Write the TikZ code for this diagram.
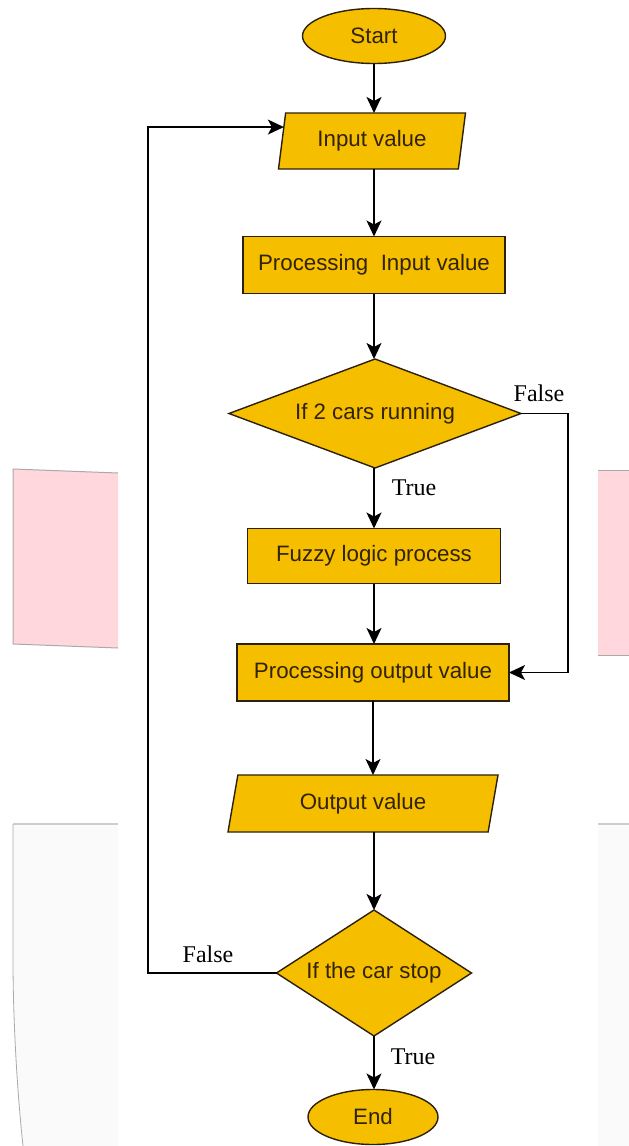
\documentclass[tikz,border=0pt]{standalone}
\usepackage{fontspec}
\setmainfont{Liberation Sans}
\newfontfamily\tnr{Liberation Serif}
\usetikzlibrary{shapes.geometric,arrows.meta}
\definecolor{gold}{RGB}{245,191,0}
\definecolor{txt}{RGB}{50,34,6}
\definecolor{edge}{RGB}{45,32,10}
\definecolor{pinkbg}{RGB}{255,215,220}
\definecolor{graybg}{RGB}{250,250,250}
\definecolor{rimgray}{RGB}{170,170,170}
\definecolor{rimlight}{RGB}{205,205,205}
\begin{document}
\begin{tikzpicture}[x=1pt,y=-1pt,
 base/.style={draw=edge, fill=gold, line width=1.4pt, text=txt, font=\fontsize{22.3}{24}\selectfont, inner sep=0pt, outer sep=0pt},
 term/.style={base, ellipse, minimum height=55pt},
 procbox/.style={base, rectangle},
 iobox/.style={base, trapezium, trapezium stretches body},
 decide/.style={base, diamond},
 arr/.style={-{Stealth[length=16pt,width=15pt,inset=4pt]}, line width=1.5pt, black},
 lbl/.style={font=\tnr\fontsize{24}{26}\selectfont, inner sep=0pt, text=black}
]
\useasboundingbox (0,0) rectangle (629,1146);
\fill[white] (0,0) rectangle (629,1146);
% background page fragments
\fill[pinkbg] (13,469) -- (118,473) -- (118,648) -- (13,644) -- cycle;
\draw[rimgray, line width=1pt] (118,473) -- (13,469) -- (13,644) -- (118,648);
\fill[pinkbg] (598,470) rectangle (629,655);
\draw[rimgray, line width=1pt] (598,470) -- (629,470);
\draw[rimgray, line width=1pt] (598,655) -- (629,655);
\fill[graybg] (13,824) -- (118,824) -- (118,1146) -- (23,1146) .. controls (16,1080) and (13,1010) .. (13,960) -- cycle;
\draw[rimlight, line width=1.2pt] (118,824) -- (13,824);
\draw[rimgray, line width=0.8pt] (13,824) -- (13,960) .. controls (13,1010) and (16,1080) .. (23,1146);
\fill[graybg] (598,824) rectangle (629,1146);
\draw[rimlight, line width=1.2pt] (598,824) -- (629,824);

% nodes
\node[term, minimum width=143pt] (start) at (374,36) {Start};
\node[iobox, trapezium left angle=71, trapezium right angle=109, minimum width=187pt, minimum height=56pt] (input) at (372,141) {Input value};
\node[procbox, minimum width=262pt, minimum height=57pt] (proc1) at (374,265) {Processing\ \ Input value};
\node[decide, minimum width=292pt, minimum height=109pt, aspect=2.68] (dec1) at (375,413.5) {If 2 cars running};
\node[procbox, minimum width=253pt, minimum height=55pt] (fuzzy) at (374,556) {Fuzzy logic process};
\node[procbox, minimum width=272pt, minimum height=57pt] (proc2) at (373,672.5) {Processing output value};
\node[iobox, trapezium left angle=64.6, trapezium right angle=115.4, minimum width=270pt, minimum height=57pt] (out) at (363,803.5) {Output value};
\node[decide, minimum width=195pt, minimum height=126pt, aspect=1.55] (dec2) at (374,973) {If the car stop};
\node[term, minimum width=130pt] (end) at (373,1117) {End};

% labels
\node[lbl] (f1) at (539,393) {False};
\node[lbl] (t1) at (414,488) {True};
\node[lbl] (f2) at (208,954) {False};
\node[lbl] (t2) at (413,1057) {True};

\coordinate (rx) at (568,0);
\coordinate (lx) at (148,0);

% connectors
\draw[arr] (start.south) -- (start.south |- input.north);
\draw[arr] (proc1.north |- input.south) -- (proc1.north);
\draw[arr] (proc1.south) -- (proc1.south |- dec1.north);
\draw[arr] (fuzzy.north |- dec1.south) -- (fuzzy.north);
\draw[arr] (fuzzy.south) -- (fuzzy.south |- proc2.north);
\draw[arr] (proc2.south) -- (proc2.south |- out.north);
\draw[arr] (dec2.north |- out.south) -- (dec2.north);
\draw[arr] (dec2.south) -- (dec2.south |- end.north);
\draw[arr, line width=1.2pt] (dec1.east) -| (rx |- proc2.east) -- (proc2.east);
\draw[arr, line width=1.2pt] (dec2.west) -| (lx |- input.171) -- (input.171);
\end{tikzpicture}
\end{document}
